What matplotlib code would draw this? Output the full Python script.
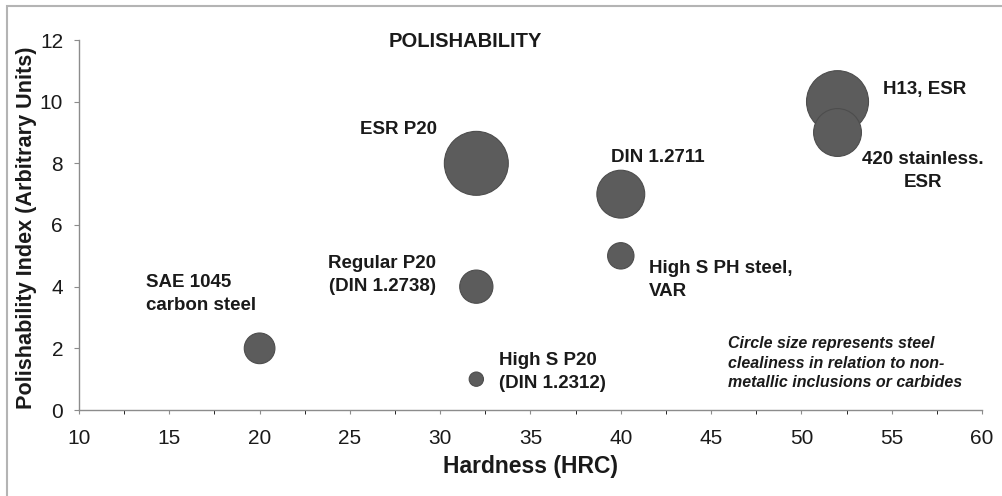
import numpy as np
import matplotlib
matplotlib.use("Agg")
import matplotlib.pyplot as plt
from matplotlib.patches import Rectangle

# steel grades: hardness, polishability index, relative cleanliness (bubble area)
names = ["ESR P20", "H13, ESR", "420 stainless.\nESR", "DIN 1.2711",
         "Regular P20\n(DIN 1.2738)", "SAE 1045\ncarbon steel",
         "High S PH steel,\nVAR", "High S P20\n(DIN 1.2312)"]
hardness = [32, 52, 52, 40, 32, 20, 40, 32]
polish = [8, 10, 9, 7, 4, 2, 5, 1]
cleanliness = [10.0, 9.4, 5.6, 5.6, 2.7, 2.3, 1.7, 0.5]

# label placement (data coords) and alignment
label_x = [29.8, 54.5, 56.75, 39.45, 26.8, 13.7, 41.55, 33.25]
label_y = [9.1, 10.38, 7.75, 8.2, 4.38, 3.76, 4.22, 1.23]
label_ha = ["right", "left", "center", "left", "center", "left", "left", "left"]

plt.rcParams['font.family'] = ['Liberation Sans', 'DejaVu Sans']
txt = '#1a1a1a'

fig = plt.figure(figsize=(10.02, 4.96), dpi=100)
ax = fig.add_axes([79/1002, 1-410/496, 903/1002, 370/496])

# bubble area proportional to cleanliness value
sizes = np.array(cleanliness) * 212
ax.scatter(hardness, polish, s=sizes, c='#5c5c5c', edgecolors='#4d4d4d',
           linewidths=0.8, zorder=3, clip_on=False)

for n, x, y, ha in zip(names, label_x, label_y, label_ha):
    ax.text(x, y, n, ha=ha, va='center', fontsize=13.5, fontweight='bold',
            color=txt, linespacing=1.45)

ax.text(31.4, 11.95, "POLISHABILITY", ha='center', va='center', fontsize=14.5,
        fontweight='bold', color=txt)
ax.text(45.95, 1.52, "Circle size represents steel\nclealiness in relation to non-\nmetallic inclusions or carbides",
        ha='left', va='center', fontsize=11.5, fontweight='bold', style='italic',
        color=txt, linespacing=1.35)

ax.set_xlim(10, 60)
ax.set_ylim(0, 12)
ax.set_xticks(np.arange(10, 61, 5))
ax.set_xticks(np.arange(12.5, 60, 5), minor=True)
ax.set_yticks(np.arange(0, 13, 2))

for s in ['top', 'right']:
    ax.spines[s].set_visible(False)
for s in ['left', 'bottom']:
    ax.spines[s].set_color('#8c8c8c')
    ax.spines[s].set_linewidth(1.0)

ax.tick_params(axis='both', colors='#8c8c8c', labelcolor=txt, labelsize=15)
ax.tick_params(axis='x', which='major', length=3, pad=11)
ax.tick_params(axis='x', which='minor', length=3)
ax.tick_params(axis='y', length=3.5, pad=8)

ax.set_xlabel("Hardness (HRC)", fontsize=16.5, fontweight='bold', color=txt)
ax.set_ylabel("Polishability Index (Arbitrary Units)", fontsize=15.6,
              fontweight='bold', color=txt, va='center')
ax.xaxis.set_label_coords(0.5, -0.154)
ax.yaxis.set_label_coords(-0.058, 0.493)
ax.xaxis.label.set_va('center')

# chart area border, cut off at the right and bottom like the source image
fig.patches.append(Rectangle((7/1002, -0.1), 1.1, 1-6/496+0.1, transform=fig.transFigure,
                             fill=False, edgecolor='#b4b4b4', linewidth=1.5))

fig.savefig("out.png", dpi=100)
